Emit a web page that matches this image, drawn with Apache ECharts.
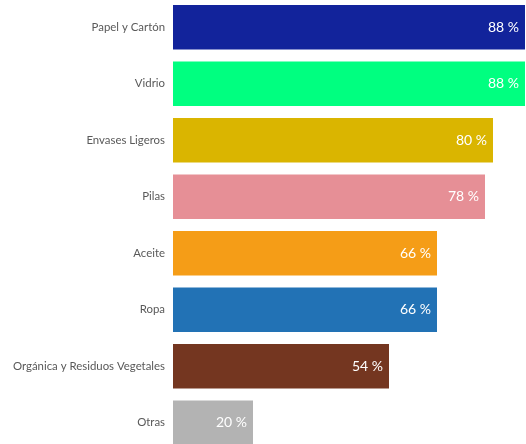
<!DOCTYPE html>
<html><head><meta charset="utf-8">
<script src="https://cdn.jsdelivr.net/npm/echarts@6/dist/echarts.min.js"></script>
<style>html,body{margin:0;padding:0;background:#fff;overflow:hidden;width:526px;height:444px}#c{width:526px;height:462px;margin-top:-1px}</style>
</head><body><div id="c"></div>
<script>
const categories = ['Papel y Cartón','Vidrio','Envases Ligeros','Pilas','Aceite','Ropa','Orgánica y Residuos Vegetales','Otras'];
const values = [88, 88, 80, 78, 66, 66, 54, 20];
const colors = ['#12239B','#00FF80','#DAB500','#E68F96','#F59D17','#2272B5','#743620','#B3B3B3'];

const chart = echarts.init(document.getElementById('c'), null, {renderer:'canvas'});
chart.setOption({
  animation:false,
  grid:{left:173, top:0, width:352, height:452, containLabel:false},
  xAxis:{type:'value', min:0, max:88, show:false},
  yAxis:{type:'category', inverse:true, data:categories,
    axisLine:{show:false}, axisTick:{show:false}, splitLine:{show:false},
    axisLabel:{color:'#595959', fontFamily:'Lato', fontSize:11.4, margin:8}},
  series:[{type:'bar', barCategoryGap:'21.4%',
    data: values.map((v,i)=>({value:v, itemStyle:{color:colors[i]}})),
    label:{show:true, position:'insideRight', distance:6, color:'#fff', fontFamily:'Lato', fontSize:14,
      formatter: p => p.value + ' %'}
  }]
});
</script></body></html>
